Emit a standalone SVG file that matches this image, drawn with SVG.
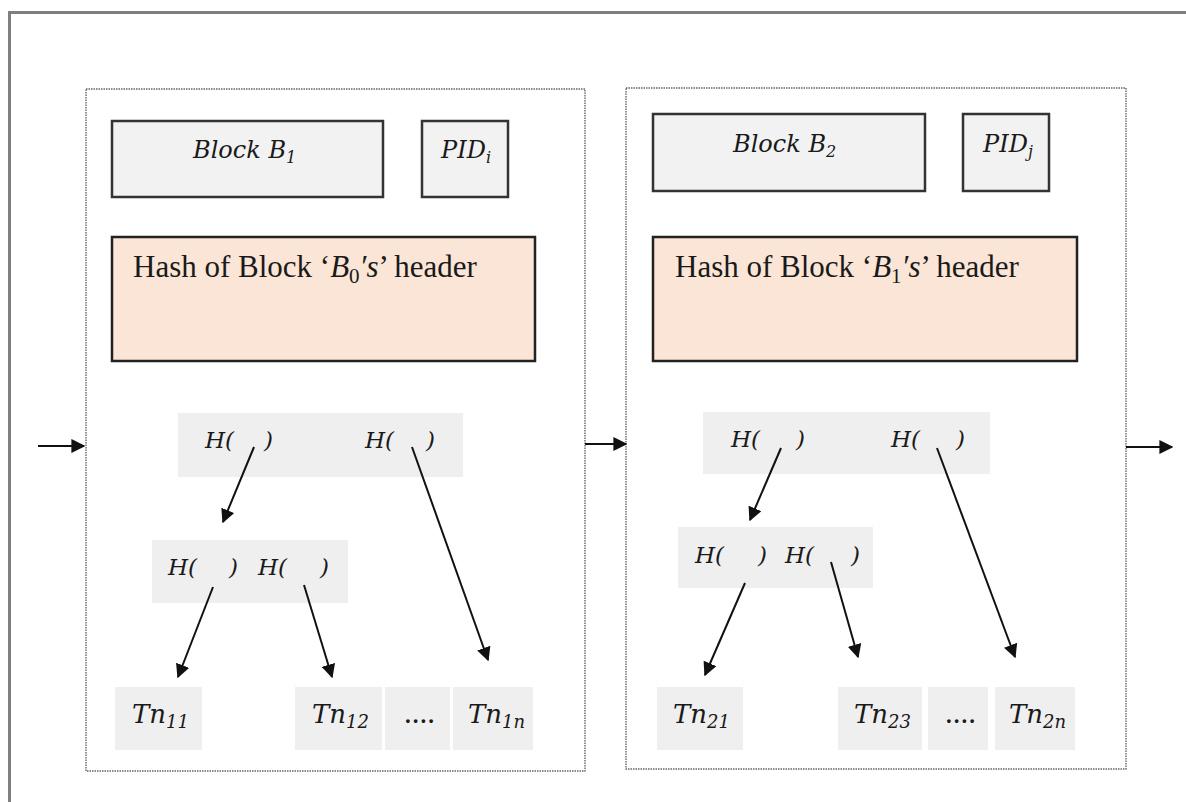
<svg xmlns="http://www.w3.org/2000/svg" width="1186" height="802" viewBox="0 0 1186 802">
<style>
.frame{fill:none;stroke:#7f7f7f;stroke-width:3}
.blk{fill:#fff;stroke:#666;stroke-width:1.4;stroke-dasharray:1.5 1}
.hdr{fill:#f2f2f2;stroke:#333;stroke-width:2.5}
.hash{fill:#fbe5d6;stroke:#222;stroke-width:2.5}
.band{fill:#efefef}
.m{font-family:"DejaVu Serif","Liberation Serif",serif;font-style:italic;fill:#1a1a1a}
.t{font-family:"Liberation Serif","Times New Roman",serif;fill:#1a1a1a;font-size:31px}
.lbl{font-size:24px}
.h{font-size:23px}
.tn{font-size:26px}
.con{stroke:#111;stroke-width:2;fill:none;marker-end:url(#ah)}
</style>
<defs>
<marker id="ah" viewBox="0 0 10 10" refX="9" refY="5" markerWidth="7" markerHeight="7" orient="auto" markerUnits="strokeWidth">
<path d="M0,0 L10,5 L0,10 Z" fill="#111"/>
</marker>
</defs>
<rect width="1186" height="802" fill="#fff"/>
<rect class="frame" x="9.5" y="12.5" width="1200" height="850"/>

<g id="block1">
<rect class="blk" x="86" y="89" width="499" height="682"/>
<g id="b1-title">
<rect class="hdr" x="112" y="121" width="271" height="76"/>
<text class="m lbl" x="193" y="158">Block B<tspan font-size="16" dy="5">1</tspan></text>
</g>
<g id="b1-pid">
<rect class="hdr" x="422" y="121" width="86" height="76"/>
<text class="m lbl" x="441" y="158">PID<tspan font-size="16" dy="5">i</tspan></text>
</g>
<g id="b1-hash">
<rect class="hash" x="112" y="237" width="423" height="124"/>
<text class="t" x="133" y="277">Hash of Block ‘<tspan font-style="italic">B</tspan><tspan font-size="21" dy="6">0</tspan><tspan dy="-6" font-style="italic">′s</tspan>’ header</text>
</g>
<g id="b1-root">
<rect class="band" x="178" y="413" width="285" height="64"/>
<text class="m h" x="205" y="448">H(</text><text class="m h" x="264" y="448">)</text>
<text class="m h" x="365" y="448">H(</text><text class="m h" x="426" y="448">)</text>
</g>
<g id="b1-mid">
<rect class="band" x="152" y="540" width="196" height="63"/>
<text class="m h" x="168" y="575">H(</text><text class="m h" x="229" y="575">)</text>
<text class="m h" x="258" y="575">H(</text><text class="m h" x="320" y="575">)</text>
</g>
<g id="b1-tn11"><rect class="band" x="115" y="687" width="87" height="63"/><text class="m tn" x="132" y="723">Tn<tspan font-size="18" dy="5">11</tspan></text></g>
<g id="b1-tn12"><rect class="band" x="295" y="687" width="87" height="63"/><text class="m tn" x="312" y="723">Tn<tspan font-size="18" dy="5">12</tspan></text></g>
<g id="b1-dots"><rect class="band" x="385" y="687" width="65" height="63"/><text class="t" font-size="18" x="404" y="723">....</text></g>
<g id="b1-tn1n"><rect class="band" x="453" y="687" width="80" height="63"/><text class="m tn" x="468" y="723">Tn<tspan font-size="18" dy="5">1n</tspan></text></g>
</g>

<g id="block2">
<rect class="blk" x="626" y="88" width="500" height="681"/>
<g id="b2-title">
<rect class="hdr" x="653" y="114" width="272" height="77"/>
<text class="m lbl" x="733" y="152">Block B<tspan font-size="16" dy="5">2</tspan></text>
</g>
<g id="b2-pid">
<rect class="hdr" x="963" y="114" width="86" height="77"/>
<text class="m lbl" x="983" y="152">PID<tspan font-size="16" dy="5">j</tspan></text>
</g>
<g id="b2-hash">
<rect class="hash" x="653" y="237" width="424" height="124"/>
<text class="t" x="675" y="277">Hash of Block ‘<tspan font-style="italic">B</tspan><tspan font-size="21" dy="6">1</tspan><tspan dy="-6" font-style="italic">′s</tspan>’ header</text>
</g>
<g id="b2-root">
<rect class="band" x="703" y="412" width="287" height="62"/>
<text class="m h" x="731" y="447">H(</text><text class="m h" x="796" y="447">)</text>
<text class="m h" x="891" y="447">H(</text><text class="m h" x="956" y="447">)</text>
</g>
<g id="b2-mid">
<rect class="band" x="678" y="527" width="195" height="61"/>
<text class="m h" x="695" y="563">H(</text><text class="m h" x="758" y="563">)</text>
<text class="m h" x="785" y="563">H(</text><text class="m h" x="851" y="563">)</text>
</g>
<g id="b2-tn21"><rect class="band" x="657" y="687" width="86" height="63"/><text class="m tn" x="673" y="723">Tn<tspan font-size="18" dy="5">21</tspan></text></g>
<g id="b2-tn23"><rect class="band" x="838" y="687" width="84" height="63"/><text class="m tn" x="854" y="723">Tn<tspan font-size="18" dy="5">23</tspan></text></g>
<g id="b2-dots"><rect class="band" x="928" y="687" width="60" height="63"/><text class="t" font-size="18" x="945" y="723">....</text></g>
<g id="b2-tn2n"><rect class="band" x="995" y="687" width="80" height="63"/><text class="m tn" x="1009" y="723">Tn<tspan font-size="18" dy="5">2n</tspan></text></g>
</g>

<g id="connectors">
<line class="con" x1="38" y1="446" x2="84" y2="446"/>
<line class="con" x1="585" y1="444" x2="626" y2="444"/>
<line class="con" x1="1126" y1="447" x2="1172" y2="447"/>
<line class="con" x1="254" y1="447" x2="223" y2="522"/>
<line class="con" x1="412" y1="447" x2="488" y2="660"/>
<line class="con" x1="213" y1="587" x2="178" y2="677"/>
<line class="con" x1="304" y1="585" x2="332" y2="677"/>
<line class="con" x1="781" y1="448" x2="750" y2="520"/>
<line class="con" x1="937" y1="448" x2="1015" y2="657"/>
<line class="con" x1="745" y1="583" x2="705" y2="675"/>
<line class="con" x1="831" y1="562" x2="858" y2="657"/>
</g>
</svg>
